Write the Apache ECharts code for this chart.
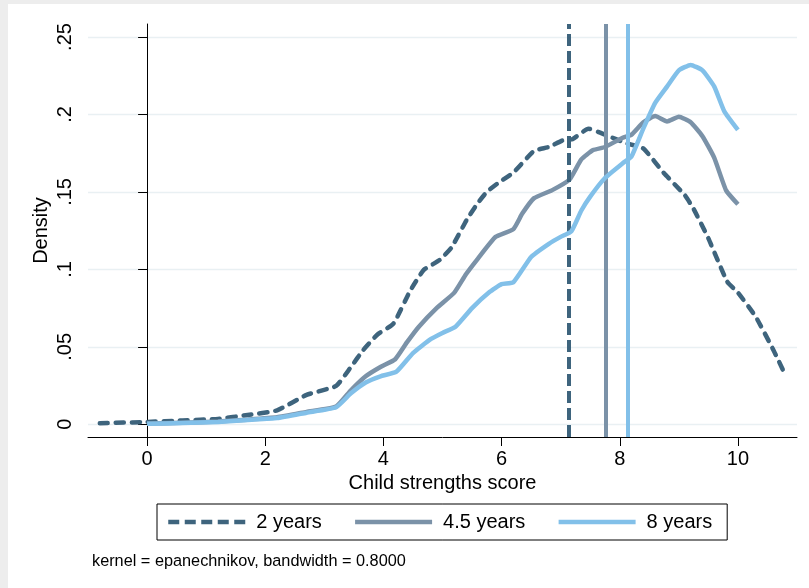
<!DOCTYPE html>
<html>
<head>
<meta charset="utf-8">
<title>Child strengths score density</title>
<script src="https://cdn.jsdelivr.net/npm/echarts@6/dist/echarts.min.js"></script>
<style>
    html, body { margin: 0; padding: 0; background: #ededed; }
    #chart_density { position: absolute; left: 8px; top: 4px; width: 801px; height: 584px; background: #ffffff; }
</style>
</head>
<body>
<div id="chart_density"></div>
<script>
/*数据*/
var seriesNames = ['2 years', '4.5 years', '8 years'];
var lineColors = ['#3e647d', '#7b92a8', '#82c0e9'];
var meanLines = [7.14, 7.76, 8.14];

var x2y = [-0.8, 0, 0.6, 1.2, 1.7, 2.2, 2.7, 3.2, 3.45, 3.66, 3.9, 4.17, 4.45, 4.68, 4.95, 5.15, 5.41, 5.6, 5.75, 5.95, 6.2, 6.55, 6.8, 7.05, 7.2, 7.47, 7.75, 8.1, 8.4, 8.75, 9.1, 9.25, 9.5, 9.82, 10.0, 10.3, 10.6, 10.8];
var y2y = [0.0007, 0.0015, 0.0025, 0.0035, 0.006, 0.009, 0.019, 0.0248, 0.037, 0.048, 0.058, 0.065, 0.086, 0.0995, 0.106, 0.114, 0.132, 0.143, 0.15, 0.156, 0.1625, 0.1765, 0.179, 0.1835, 0.184, 0.1908, 0.187, 0.1815, 0.178, 0.162, 0.148, 0.139, 0.12, 0.092, 0.085, 0.0695, 0.048, 0.032];

var x45y = [0, 0.6, 1.2, 1.7, 2.2, 2.7, 3.2, 3.45, 3.7, 3.95, 4.2, 4.4, 4.6, 4.9, 5.2, 5.4, 5.6, 5.9, 6.2, 6.35, 6.55, 6.85, 7.15, 7.35, 7.55, 7.75, 8.05, 8.2, 8.4, 8.6, 8.8, 9.0, 9.2, 9.4, 9.6, 9.8, 10];
var y45y = [0.0005, 0.001, 0.0018, 0.003, 0.0045, 0.008, 0.0115, 0.022, 0.031, 0.037, 0.042, 0.053, 0.063, 0.075, 0.085, 0.097, 0.107, 0.121, 0.126, 0.136, 0.146, 0.151, 0.158, 0.171, 0.177, 0.179, 0.185, 0.187, 0.195, 0.199, 0.1955, 0.1985, 0.195, 0.186, 0.172, 0.151, 0.142];

var x8y = [0, 0.6, 1.2, 1.7, 2.2, 2.7, 3.2, 3.45, 3.7, 3.95, 4.22, 4.5, 4.8, 5.0, 5.22, 5.5, 5.8, 6.0, 6.2, 6.5, 6.8, 7.0, 7.18, 7.35, 7.5, 7.75, 8.05, 8.2, 8.4, 8.6, 8.8, 9.0, 9.2, 9.4, 9.6, 9.77, 10];
var y8y = [0.0003, 0.0008, 0.0015, 0.0028, 0.004, 0.0075, 0.011, 0.02, 0.027, 0.031, 0.034, 0.046, 0.055, 0.059, 0.063, 0.075, 0.0855, 0.0905, 0.0917, 0.108, 0.1165, 0.121, 0.1245, 0.138, 0.147, 0.159, 0.1685, 0.173, 0.191, 0.2075, 0.218, 0.2285, 0.232, 0.2285, 0.218, 0.202, 0.19];

var xTicks = [0, 2, 4, 6, 8, 10];
var yTicks = [0, 0.05, 0.1, 0.15, 0.2, 0.25];
var noteText = 'kernel = epanechnikov, bandwidth = 0.8000';

var fontName = '"Liberation Sans", Arial, Helvetica, sans-serif';

function zipData(xs, ys) {
    var arr = [];
    for (var i = 0; i < xs.length; i++) {
        arr.push([xs[i], ys[i]]);
    }
    return arr;
}

function yLabel(v) {
    if (Math.abs(v) < 1e-9) { return '0'; }
    return String(parseFloat(v.toFixed(2))).replace(/^0/, '');
}

function makeSeries(idx, xs, ys, dashed) {
    return {
        name: seriesNames[idx],
        type: 'line',
        data: zipData(xs, ys),
        symbol: 'none',
        smooth: 0.15,
        z: 3 + idx,
        lineStyle: {
            color: lineColors[idx],
            width: 4.5,
            type: dashed ? [8, 8] : 'solid',
            cap: dashed ? 'round' : 'butt',
            join: 'round'
        },
        itemStyle: { color: lineColors[idx] },
        markLine: {
            silent: true,
            symbol: ['none', 'none'],
            label: { show: false },
            emphasis: { disabled: true },
            lineStyle: {
                color: lineColors[idx],
                width: 4,
                type: dashed ? [12, 5] : 'solid'
            },
            data: [{ xAxis: meanLines[idx] }]
        }
    };
}

var chart_density = null;
function initChart() {
    chart_density = echarts.init(document.getElementById('chart_density'));
    var option = {
        animation: false,
        textStyle: { fontFamily: fontName },
        grid: {
            left: 80,
            top: 20,
            width: 709,
            height: 413
        },
        legend: {
            data: [
                { name: seriesNames[0], lineStyle: { type: [11, 5.5], cap: 'butt' } },
                { name: seriesNames[1] },
                { name: seriesNames[2] }
            ],
            left: 149,
            top: 500,
            orient: 'horizontal',
            padding: [8, 15, 8, 9],
            borderColor: '#000',
            borderWidth: 1,
            itemGap: 31,
            itemWidth: 77,
            itemHeight: 14,
            itemStyle: { color: 'rgba(0,0,0,0)', borderWidth: 0, opacity: 0 },
            lineStyle: { width: 4.5, cap: 'butt' },
            textStyle: {
                fontSize: 20,
                color: '#000',
                fontFamily: fontName,
                padding: [0, 0, 0, 6]
            }
        },
        xAxis: {
            type: 'value',
            min: -1,
            max: 11,
            name: 'Child strengths score',
            nameLocation: 'middle',
            nameGap: 35,
            nameTextStyle: { fontSize: 20, color: '#000', fontFamily: fontName },
            axisLine: { onZero: false, lineStyle: { color: '#000', width: 1 } },
            axisTick: { show: true, length: 9, customValues: xTicks, lineStyle: { color: '#000' } },
            axisLabel: { customValues: xTicks, margin: 12, fontSize: 20, color: '#000', fontFamily: fontName },
            splitLine: { show: false }
        },
        yAxis: {
            type: 'value',
            min: -0.0082,
            max: 0.2584,
            name: 'Density',
            nameLocation: 'middle',
            nameGap: 37,
            nameMoveOverlap: false,
            nameTextStyle: { fontSize: 20, color: '#000', fontFamily: fontName },
            axisLine: { show: true, lineStyle: { color: '#000', width: 1 } },
            axisTick: { show: true, length: 9, customValues: yTicks, lineStyle: { color: '#000' } },
            axisLabel: {
                customValues: yTicks,
                rotate: 90,
                margin: 13,
                fontSize: 20,
                color: '#000',
                fontFamily: fontName,
                formatter: yLabel
            },
            splitLine: { show: true, lineStyle: { color: '#e9f0f3', width: 1.3 } }
        },
        graphic: [{
            type: 'text',
            left: 84,
            top: 550,
            style: {
                text: noteText,
                fontSize: 16.3,
                fontFamily: fontName,
                fill: '#000'
            }
        }],
        series: [
            makeSeries(0, x2y, y2y, true),
            makeSeries(1, x45y, y45y, false),
            makeSeries(2, x8y, y8y, false)
        ]
    };
    chart_density.setOption(option);
}

initChart();
</script>
</body>
</html>
